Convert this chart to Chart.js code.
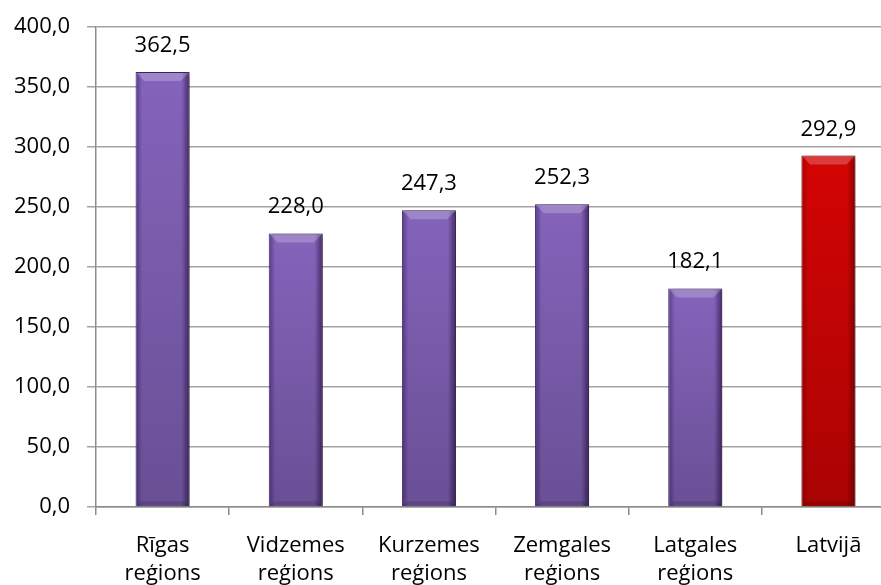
<!DOCTYPE html>
<html>
<head>
<meta charset="utf-8">
<script src="https://cdn.jsdelivr.net/npm/chart.js@4"></script>
<style>
  html, body { margin: 0; padding: 0; background: #fff; overflow: hidden; }
  #wrap { width: 895px; height: 585px; }
</style>
</head>
<body>
<div id="wrap"><canvas id="grafico"></canvas></div>
<script>
const REGIONI = [['Rīgas', 'reģions'], ['Vidzemes', 'reģions'], ['Kurzemes', 'reģions'], ['Zemgales', 'reģions'], ['Latgales', 'reģions'], 'Latvijā'];
const VALORI = [362.5, 228.0, 247.3, 252.3, 182.1, 292.9];
const Y_TICKS = [0, 50, 100, 150, 200, 250, 300, 350, 400];

const FONT = { family: "'Open Sans', sans-serif", size: 22 };
const LARGHEZZA = 0.406;

// colori per barra: bordo sinistro, centro, bordo destro
const VIOLA = ['#57398a', '#8463ba', '#432868'];
const ROSSO = ['#a40000', '#d40404', '#860000'];
const coloreBarra = i => (i === VALORI.length - 1 ? ROSSO : VIOLA);

function fmt(v) {
    return v.toFixed(1).replace('.', ',');
}

function gradiente(context) {
    const chart = context.chart;
    const xs = chart.scales.x;
    const c = coloreBarra(context.dataIndex);
    if (!chart.chartArea || !xs) return c[1];
    const cx = xs.getPixelForValue(context.dataIndex);
    const half = (xs.width / VALORI.length) * LARGHEZZA / 2;
    const g = chart.ctx.createLinearGradient(cx - half, 0, cx + half, 0);
    g.addColorStop(0, c[0]);
    g.addColorStop(0.12, c[1]);
    g.addColorStop(0.85, c[1]);
    g.addColorStop(1, c[2]);
    return g;
}

const dettagli = {
    id: 'dettagli',
    beforeDatasetsDraw(chart) {
        const ctx = chart.ctx;
        ctx.save();
        ctx.shadowColor = 'rgba(0,0,0,0.4)';
        ctx.shadowOffsetX = 3;
        ctx.shadowOffsetY = 1;
        ctx.shadowBlur = 4;
    },
    afterDatasetsDraw(chart) {
        const ctx = chart.ctx;
        ctx.restore();
        const meta = chart.getDatasetMeta(0);
        meta.data.forEach((bar, i) => {
            const l = bar.x - bar.width / 2;
            const r = bar.x + bar.width / 2;
            const t = bar.y;
            const b = bar.base;
            ctx.save();
            // scurisce verso il basso
            const gv = ctx.createLinearGradient(0, t, 0, b);
            gv.addColorStop(0, 'rgba(0,0,0,0)');
            gv.addColorStop(1, 'rgba(0,0,0,0.2)');
            ctx.fillStyle = gv;
            ctx.fillRect(l + 1, t + 1, r - l - 2, b - t - 1);
            // smusso in alto
            ctx.fillStyle = 'rgba(255,255,255,0.22)';
            ctx.beginPath();
            ctx.moveTo(l + 1, t + 1);
            ctx.lineTo(r - 1, t + 1);
            ctx.lineTo(r - 9, t + 9);
            ctx.lineTo(l + 9, t + 9);
            ctx.closePath();
            ctx.fill();
            // ombra in basso
            ctx.fillStyle = 'rgba(0,0,0,0.12)';
            ctx.beginPath();
            ctx.moveTo(l + 1, b - 1);
            ctx.lineTo(r - 1, b - 1);
            ctx.lineTo(r - 6, b - 5);
            ctx.lineTo(l + 6, b - 5);
            ctx.closePath();
            ctx.fill();
            // etichetta valore
            ctx.fillStyle = '#000';
            ctx.font = FONT.size + 'px ' + FONT.family;
            ctx.textAlign = 'center';
            ctx.textBaseline = 'alphabetic';
            ctx.fillText(fmt(VALORI[i]), bar.x, t - 20);
            ctx.restore();
        });
    }
};

const ctx = document.getElementById('grafico').getContext('2d');
const grafico = new Chart(ctx, {
    type: 'bar',
    data: {
        labels: REGIONI,
        datasets: [{
            data: VALORI,
            backgroundColor: gradiente,
            borderColor: ctx2 => coloreBarra(ctx2.dataIndex)[2],
            borderWidth: 1,
            barPercentage: LARGHEZZA,
            categoryPercentage: 1
        }]
    },
    options: {
        responsive: true,
        maintainAspectRatio: false,
        animation: false,
        layout: { padding: { top: 27, right: 0, left: 0, bottom: 0 } },
        plugins: {
            legend: { display: false },
            tooltip: { enabled: false }
        },
        scales: {
            y: {
                min: 0,
                max: 400,
                afterFit: s => {
                    s.width = 96;
                    s.paddingTop = 0;
                    s.paddingBottom = 0;
                },
                afterBuildTicks: s => { s.ticks = Y_TICKS.map(v => ({ value: v })); },
                ticks: {
                    color: '#000',
                    font: FONT,
                    padding: 17,
                    callback: v => fmt(v)
                },
                grid: {
                    color: '#a3a3a3',
                    lineWidth: 1.5,
                    tickLength: 9
                },
                border: { color: '#8c8c8c', width: 1.5 }
            },
            x: {
                afterFit: s => { s.height = 78; },
                offset: true,
                ticks: {
                    color: '#000',
                    font: { family: FONT.family, size: 22, lineHeight: 1.25 },
                    padding: 17,
                    maxRotation: 0,
                    autoSkip: false
                },
                grid: {
                    offset: true,
                    drawOnChartArea: false,
                    color: '#8c8c8c',
                    lineWidth: 1.5,
                    tickLength: 8
                },
                border: { color: '#8c8c8c', width: 1.5 }
            }
        }
    },
    plugins: [dettagli]
});
</script>
</body>
</html>
